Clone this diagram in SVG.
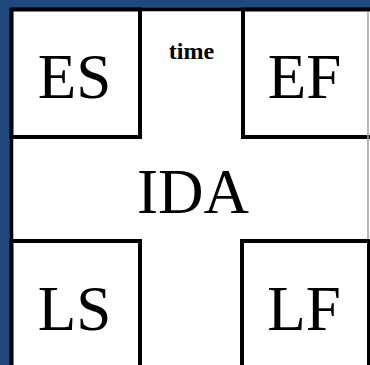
<svg xmlns="http://www.w3.org/2000/svg" width="370" height="365" viewBox="0 0 370 365">
  <style>
    .box { fill: #ffffff; stroke: #000000; stroke-width: 4; }
    .big { font-family: "Liberation Serif", "Times New Roman", serif; font-size: 63px; fill: #000000; text-anchor: middle; }
    .small { font-family: "Liberation Serif", "Times New Roman", serif; font-size: 24px; font-weight: bold; fill: #000000; text-anchor: middle; }
  </style>
  <rect x="0" y="0" width="370" height="365" fill="#1F497D"/>
  <g id="frame">
    <rect x="11.5" y="9.5" width="370" height="370" fill="#ffffff"/>
    <line x1="11.5" y1="9.5" x2="370" y2="9.5" stroke="#000000" stroke-width="3.5"/>
    <line x1="11.5" y1="8" x2="11.5" y2="365" stroke="#000000" stroke-width="3.5"/>
  </g>
  <g id="ES">
    <rect class="box" x="11.5" y="9.5" width="128.5" height="127.5"/>
    <text class="big" x="74.5" y="98">ES</text>
  </g>
  <g id="EF">
    <rect class="box" x="243" y="9.5" width="140" height="127.5"/>
    <text class="big" x="304.5" y="98">EF</text>
  </g>
  <g id="LS">
    <rect class="box" x="11.5" y="241" width="128.5" height="140"/>
    <text class="big" x="74.5" y="330">LS</text>
  </g>
  <g id="LF">
    <rect class="box" x="242" y="241" width="127" height="140"/>
    <text class="big" x="304" y="330">LF</text>
  </g>
  <g id="IDA">
    <text class="big" x="193" y="213">IDA</text>
  </g>
  <g id="time">
    <text class="small" x="191.5" y="59">time</text>
  </g>
  <line x1="368" y1="11.5" x2="368" y2="239" stroke="#a0a0a0" stroke-width="1.5"/>
  <g id="connectors"></g>
</svg>
